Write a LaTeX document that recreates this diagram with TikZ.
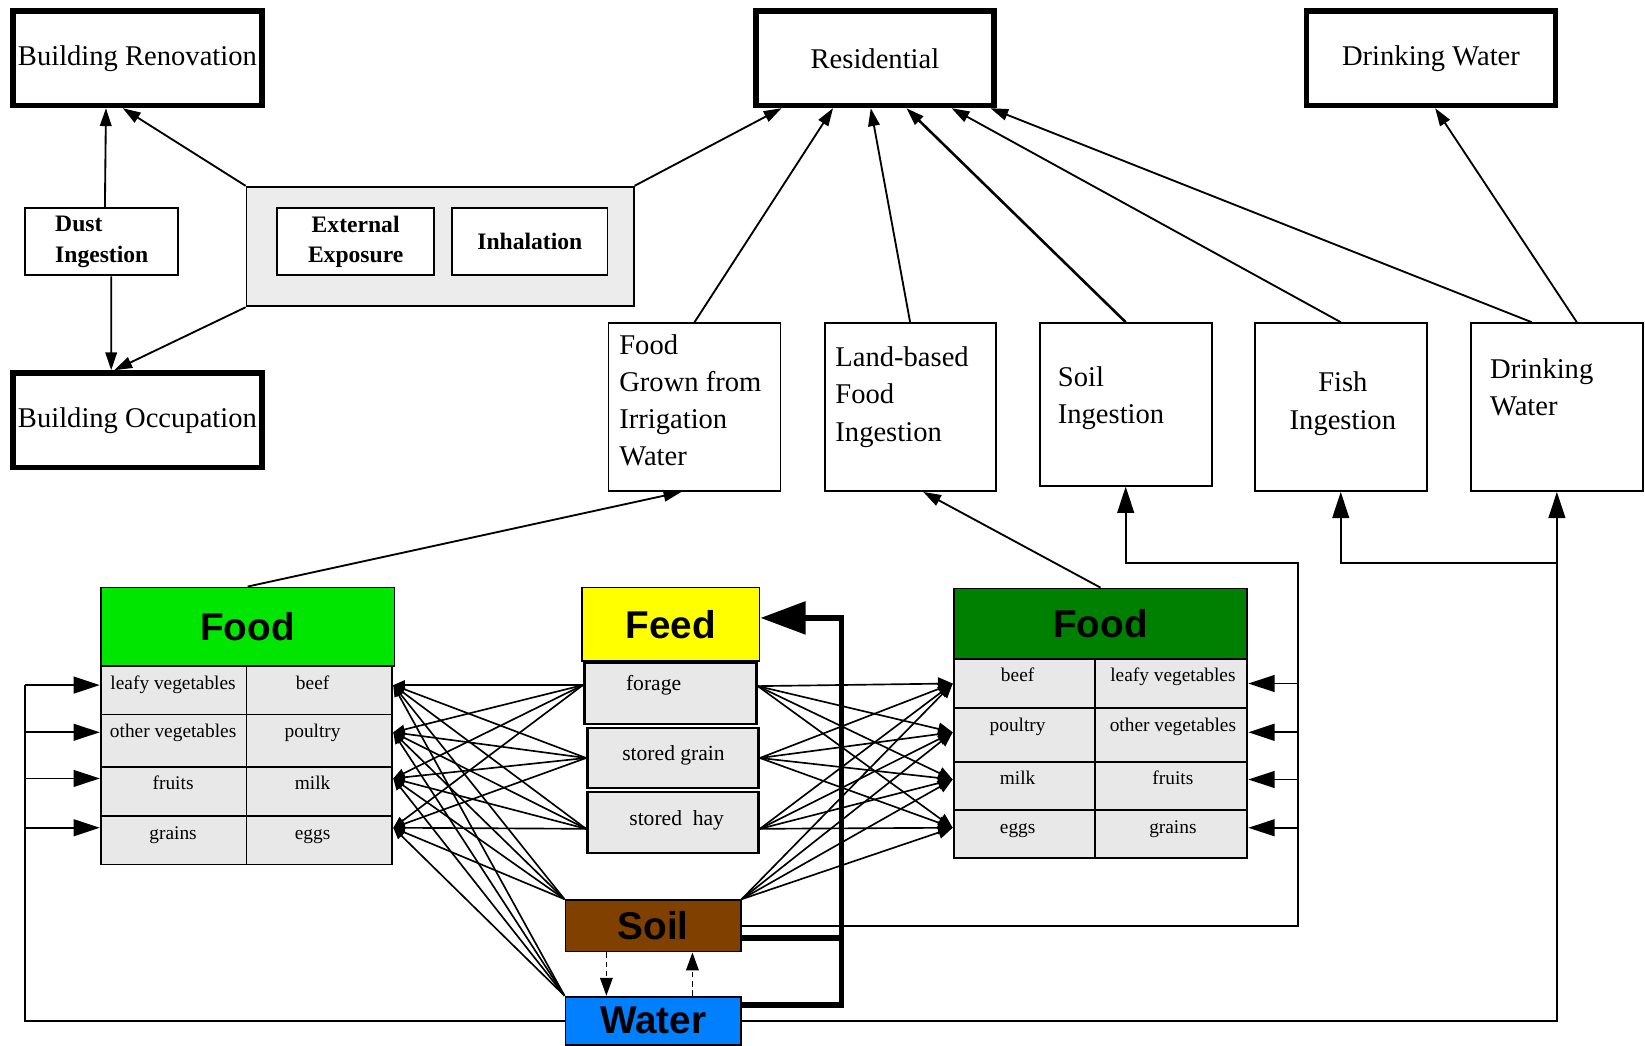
\documentclass[tikz,border=0pt]{standalone}
\usepackage{fontspec}
\setmainfont{Liberation Serif}
\newfontfamily\headfont{Liberation Sans}
\usetikzlibrary{arrows.meta}

\definecolor{foodgreen}{RGB}{0,230,0}
\definecolor{fooddark}{RGB}{0,128,0}
\definecolor{feedyellow}{RGB}{255,255,0}
\definecolor{soilbrown}{RGB}{128,64,0}
\definecolor{waterblue}{RGB}{0,128,255}
\definecolor{cellgray}{RGB}{232,232,232}

\tikzset{
    outbox/.style={draw,line width=3pt,inner sep=1pt,minimum width=47.4mm,minimum height=18mm,font=\fontsize{15.5}{18}\selectfont},
    pathbox/.style={draw,line width=1pt,minimum width=32.8mm,minimum height=32mm},
    pathtxt/.style={anchor=base west,align=left,inner sep=0pt,font=\fontsize{15.5}{20.2}\selectfont},
    smallbox/.style={draw,fill=white,line width=1pt,minimum height=12.8mm,align=left,font=\bfseries\fontsize{12.8}{16.5}\selectfont},
    head/.style={draw,line width=1pt,font=\headfont\bfseries\fontsize{21}{24}\selectfont},
    cell/.style={draw,line width=1pt,fill=cellgray,inner sep=0pt},
    celltxt/.style={anchor=base,inner sep=0pt,font=\fontsize{10.5}{12}\selectfont},
    feedtxt/.style={anchor=base,inner sep=0pt,font=\fontsize{11.7}{14}\selectfont},
    conn/.style={line width=1pt},
    arr/.style={-{Triangle[length=3.4mm,width=2.2mm]},line width=1pt},
    bigarr/.style={-{Triangle[length=5mm,width=3.2mm]},line width=1pt},
    fan/.style={-{Triangle[length=2.2mm,width=1.8mm]},line width=0.9pt},
    fanr/.style={-{Triangle[length=2.8mm,width=2.4mm]},line width=0.9pt},
    dasharr/.style={-{Triangle[length=3.4mm,width=2.4mm]},line width=0.8pt,dash pattern=on 3pt off 2pt},
    feedarr/.style={-{Triangle[length=8.6mm,width=6.1mm]},line width=3pt}
}

\begin{document}
\begin{tikzpicture}[x=0.2mm,y=-0.2mm]
    \useasboundingbox (0,0) rectangle (1568,997);

    \node[outbox] (reno) at (131,55.5) {Building Renovation};
    \node[outbox] (occup) at (131,400.5) {Building Occupation};
    \node[outbox,minimum width=45.4mm] (resid) at (834,55.5) {Residential};
    \node[outbox] (drinktop) at (1364,55.5) {Drinking Water};

    \node[smallbox,minimum width=29.2mm] (dust) at (97,230.5) {Dust\\Ingestion};
    \node[draw,line width=1pt,fill=gray!15,minimum width=73.8mm,minimum height=22.8mm] (expo) at (419.5,235) {};
    \node[smallbox,minimum width=30mm,align=center] (extexp) at (339,230.5) {External\\Exposure};
    \node[smallbox,minimum width=29.6mm,align=center] (inhal) at (505,230.5) {Inhalation};

    \node[pathbox] (irrig) at (662,388) {};
    \node[pathbox,minimum width=32.6mm] (landfood) at (867.5,388) {};
    \node[pathbox,minimum height=31mm] (soiling) at (1073,385.5) {};
    \node[pathbox] (fishing) at (1278,388) {};
    \node[pathbox] (drinking) at (1484,388) {};
    \node[pathtxt] (irrigtxt) at (590,444) {Food\\Grown from\\Irrigation\\Water};
    \node[pathtxt] (landtxt) at (796,420.5) {Land-based\\Food\\Ingestion};
    \node[pathtxt] (soiltxt) at (1008,404) {Soil\\Ingestion};
    \node[pathtxt,anchor=base,align=center] (fishtxt) at (1280,409) {Fish\\Ingestion};
    \node[pathtxt] (drinktxt) at (1420,396) {Drinking\\Water};

    \node[head,fill=foodgreen,minimum width=56mm,minimum height=15mm] (lfood) at (236,597.5) {Food};
    \node[head,fill=feedyellow,minimum width=33.8mm,minimum height=14mm] (feed) at (639.5,595) {Feed};
    \node[head,fill=fooddark,minimum width=56mm,minimum height=13.4mm] (rfood) at (1049,594.5) {Food};

    \foreach \t/\h/\a/\b/\s [count=\i] in {635/46/leafy vegetables/beef/1, 681/50/other vegetables/poultry/1.6, 731/47/fruits/milk/2.5, 778/46/grains/eggs/2.4} {
        \node[cell,minimum width=27.8mm,minimum height=\h*0.2mm] (lveg\i) at (165.5,\t+\h/2) {};
        \node[cell,minimum width=27.8mm,minimum height=\h*0.2mm] (lmeat\i) at (304.5,\t+\h/2) {};
        \node[celltxt] (lvegtxt\i) at (165,\t+22) {\a};
        \node[celltxt] (lmeattxt\i) at (298,\t+22) {\b};
        \coordinate (lin\i) at ([yshift=\s mm]lmeat\i.east);
        \coordinate (lout\i) at ([yshift=\s mm]lveg\i.west);
    }
    \foreach \t/\h/\a/\b/\s [count=\i] in {628/47/beef/leafy vegetables/0, 675/51/poultry/other vegetables/0.5, 726/46/milk/fruits/1.2, 772/46/eggs/grains/1.2} {
        \node[cell,minimum width=27mm,minimum height=\h*0.2mm] (rmeat\i) at (976.5,\t+\h/2) {};
        \node[cell,minimum width=29mm,minimum height=\h*0.2mm] (rveg\i) at (1116.5,\t+\h/2) {};
        \node[celltxt] (rmeattxt\i) at (970,\t+22) {\a};
        \node[celltxt] (rvegtxt\i) at (1118,\t+22) {\b};
        \coordinate (rin\i) at ([yshift=\s mm]rmeat\i.west);
        \coordinate (rout\i) at ([yshift=\s mm]rveg\i.east);
    }

    \node[cell,line width=1.5pt,minimum width=32.8mm,minimum height=11.6mm] (forage) at (639,661) {};
    \node[cell,line width=1.5pt,minimum width=32.6mm,minimum height=11.4mm] (grain) at (641.5,722.5) {};
    \node[cell,line width=1.5pt,minimum width=32.6mm,minimum height=11.6mm] (hay) at (641.5,784) {};
    \node[feedtxt] (foragetxt) at (623,658) {forage};
    \node[feedtxt] (graintxt) at (642,724.5) {stored grain};
    \node[feedtxt] (haytxt) at (645,786.5) {stored~ hay};
    \coordinate (forageL) at ([yshift=1.6mm]forage.west);
    \coordinate (forageR) at ([yshift=1.4mm]forage.east);
    \coordinate (grainL) at (grain.west);
    \coordinate (grainR) at (grain.east);
    \coordinate (hayL) at ([yshift=-1.2mm]hay.west);
    \coordinate (hayR) at ([yshift=-1.2mm]hay.east);

    \node[head,fill=soilbrown,minimum width=33.4mm,minimum height=9.8mm] (soil) at (622.5,882.5) {Soil};
    \node[head,fill=waterblue,minimum width=33.4mm,minimum height=9.2mm] (water) at (622.5,973) {Water};

    \draw[arr] ([xshift=0.6mm]dust.north) -- ([xshift=-6mm]reno.south);
    \draw[arr] ([xshift=1.8mm]dust.south) -- ([xshift=-5mm]occup.north);
    \draw[arr] (expo.north west) -- ([xshift=-2.8mm]reno.south);
    \draw[arr] (expo.south west) -- ([xshift=-4.4mm]occup.north);

    \draw[arr] (expo.north east) -- ([xshift=-17.8mm]resid.south);
    \draw[arr] (irrig.north) -- ([xshift=-8mm]resid.south);
    \draw[arr] (landfood.north) -- ([xshift=-0.8mm]resid.south);
    \draw[arr,line width=1.4pt] (soiling.north) -- ([xshift=6mm]resid.south);
    \draw[arr] (fishing.north) -- ([xshift=14.6mm]resid.south);
    \draw[arr] ([xshift=-4.8mm]drinking.north) -- ([xshift=22mm]resid.south);
    \draw[arr] ([xshift=3.8mm]drinking.north) -- ([xshift=0.8mm]drinktop.south);

    \draw[arr] (lfood.north) -- ([xshift=-2.5mm]irrig.south);
    \draw[arr] (rfood.north) -- ([xshift=2.5mm]landfood.south);

    \foreach \src in {forageL,grainL,hayL,soil.north west,water.north west}
        \foreach \i in {1,...,4}
            \draw[fan] (\src) -- (lin\i);
    \foreach \src in {forageR,grainR,hayR,soil.north east}
        \foreach \i in {1,...,4}
            \draw[fanr] (\src) -- (rin\i);

    \draw[dasharr] ([xshift=-8.9mm]soil.south) -- ([xshift=-8.9mm]water.north);
    \draw[dasharr] ([xshift=7.5mm]water.north) -- ([xshift=7.5mm]soil.south);

    \draw[feedarr] ([yshift=3mm]water.east) -- ++(95,0) |- ([yshift=1.2mm]feed.east);
    \draw[line width=3pt] ([yshift=-2.3mm]soil.east) -- ++(95,0);

    \draw[conn] (water.west) -| ([xshift=-14.2mm]lout1);
    \foreach \i in {1,...,4}
        \draw[bigarr] ([xshift=-14.2mm]lout\i) -- (lout\i);

    \coordinate (soilbus) at (1237,537);
    \coordinate (waterbus) at (drinking.south |- soilbus);
    \draw[bigarr] (water.east) -| (drinking.south);
    \draw[bigarr] (waterbus) -| (fishing.south);
    \draw[bigarr] (soil.east) -| (soilbus) -| (soiling.south);
    \foreach \i in {1,...,4}
        \draw[bigarr] (soilbus |- rout\i) -- (rout\i);
\end{tikzpicture}
\end{document}
